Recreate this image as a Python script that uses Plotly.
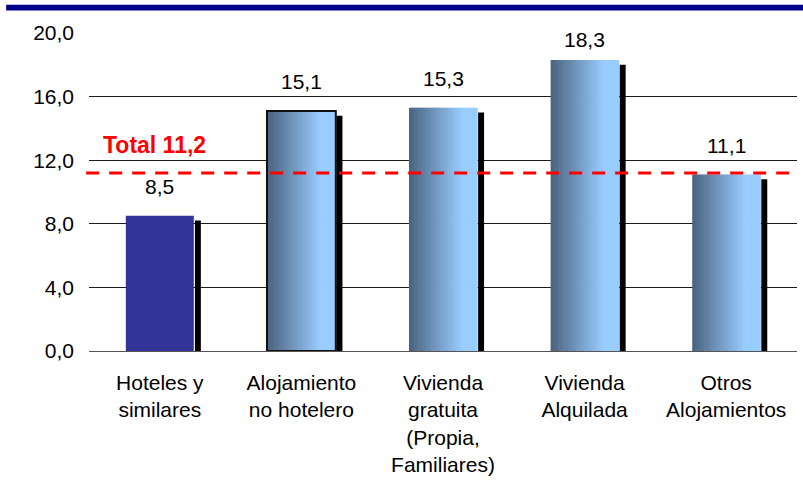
import numpy as np
import plotly.graph_objects as go

# Data
categories = ["Hoteles y<br>similares", "Alojamiento<br>no hotelero",
              "Vivienda<br>gratuita<br>(Propia,<br>Familiares)",
              "Vivienda<br>Alquilada", "Otros<br>Alojamientos"]
values = [8.5, 15.1, 15.3, 18.3, 11.1]
total = 11.2
y_ticks = [0, 4, 8, 12, 16, 20]

FONT = "Arial, Liberation Sans, sans-serif"
BAR_W = 0.48
N_SLICES = 40

def lerp_color(c0, c1, t):
    return "rgb({},{},{})".format(*[round(a + (b - a) * t) for a, b in zip(c0, c1)])

fig = go.Figure()

# first bar: solid blue-violet
fig.add_trace(go.Bar(x=categories[:1], y=values[:1], width=BAR_W,
                     marker=dict(color="#333399", line=dict(width=0)),
                     showlegend=False, hoverinfo="skip"))

# the other bars: horizontal gradient made of thin slices
dark, light = (74, 98, 126), (153, 204, 255)
sw = BAR_W / N_SLICES
for i in range(N_SLICES):
    t = min(1.0, (i + 0.5) / N_SLICES / 0.78)
    fig.add_trace(go.Bar(x=categories[1:], y=values[1:],
                         offset=-BAR_W / 2 + i * sw, width=sw * 1.4,
                         marker=dict(color=lerp_color(dark, light, t), line=dict(width=0)),
                         showlegend=False, hoverinfo="skip"))

# outline on the second bar
fig.add_trace(go.Bar(x=categories[1:2], y=values[1:2], width=BAR_W + 0.006,
                     marker=dict(color="rgba(0,0,0,0)", line=dict(color="#111111", width=2)),
                     showlegend=False, hoverinfo="skip"))

# black shadow to the right of each bar
shadow_y = [v - 0.3 for v in values]
fig.add_trace(go.Bar(x=categories, y=shadow_y, offset=BAR_W / 2 + 0.008, width=0.042,
                     marker=dict(color="black", line=dict(width=0)),
                     showlegend=False, hoverinfo="skip"))

# value labels
label_y = np.minimum(np.array(values) + 1.0, 18.75)
for c, v, ly in zip(categories, values, label_y):
    fig.add_annotation(x=c, y=ly, text=f"{v:.1f}".replace(".", ","), showarrow=False,
                       yanchor="bottom", font=dict(family=FONT, size=21, color="black"))

# total reference line and label
fig.add_shape(type="line", xref="paper", yref="y", x0=-0.004, x1=1, y0=total, y1=total,
              line=dict(color="red", width=3, dash="13px,10px"))
fig.add_annotation(xref="paper", yref="y", x=0.017, y=total, yshift=13,
                   xanchor="left", yanchor="bottom", showarrow=False,
                   text="<b>Total " + f"{total:.1f}".replace(".", ",") + "</b>",
                   font=dict(family=FONT, size=23, color="red"))

# navy band at the top
fig.add_shape(type="rect", xref="paper", yref="paper", x0=-0.117, x1=1.01,
              y0=1.071, y1=1.089, line=dict(width=0), fillcolor="#000088")

fig.update_layout(
    width=803, height=488,
    margin=dict(l=89, r=6, t=33, b=137),
    plot_bgcolor="white", paper_bgcolor="white",
    barmode="overlay", bargap=0.52,
    separators=",.",
    font=dict(family=FONT, size=21, color="black"),
    xaxis=dict(type="category", range=[-0.5, 4.5], showgrid=False, showline=False,
               ticks="", ticklabelstandoff=17, tickfont=dict(size=21)),
    yaxis=dict(range=[0, 20], tickvals=y_ticks, tickformat=".1f",
               showgrid=True, gridcolor="#1a1a1a", gridwidth=1,
               zeroline=True, zerolinecolor="#555555", zerolinewidth=1,
               showline=False, ticks="", ticklabelstandoff=14, tickfont=dict(size=21)),
)

# drop the default 8px body margin so the figure fills the window
fig.write_html("out.html", config={"displayModeBar": False},
               post_script="document.body.style.margin='0px';")
